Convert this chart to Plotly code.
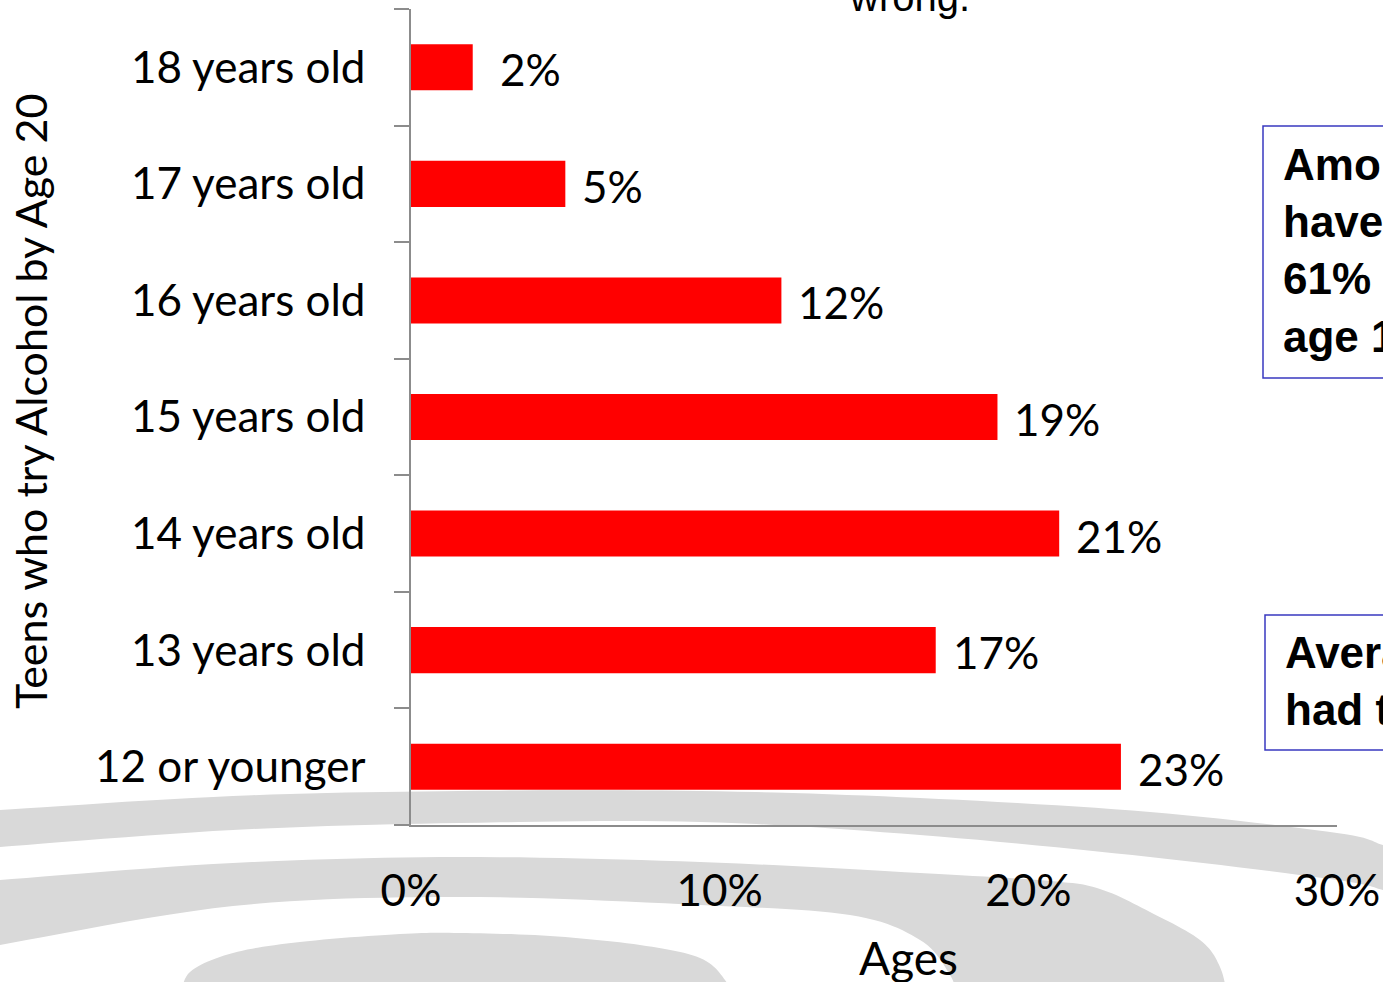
import plotly.graph_objects as go

# ---- data ----
categories = ["12 or younger", "13 years old", "14 years old", "15 years old",
              "16 years old", "17 years old", "18 years old"]
values = [23, 17, 21, 19, 12, 5, 2]
x_ticks = [0, 10, 20, 30]
x_tick_labels = ["0%", "10%", "20%", "30%"]
y_title = "Teens who try Alcohol by Age 20"
x_title = "Ages"
title_tail = "wrong."
box1_lines = ["Among teens who", "have tried alcohol,", "61% did so by", "age 15."]
box2_lines = ["Average age teens", "had their first drink: 14"]

W, H = 1383, 982
L, R, T, B = 411, 46, 9, 157
PW, PH = W - L - R, H - T - B


def px(x):
    return (x - L) / PW


def py(y):
    return (H - B - y) / PH


def catmull(pts, n=12):
    out = []
    P = [pts[0]] + pts + [pts[-1]]
    for i in range(1, len(P) - 2):
        p0, p1, p2, p3 = P[i - 1], P[i], P[i + 1], P[i + 2]
        for k in range(n):
            t = k / n
            t2, t3 = t * t, t * t * t
            x = 0.5 * ((2 * p1[0]) + (-p0[0] + p2[0]) * t + (2 * p0[0] - 5 * p1[0] + 4 * p2[0] - p3[0]) * t2 + (-p0[0] + 3 * p1[0] - 3 * p2[0] + p3[0]) * t3)
            y = 0.5 * ((2 * p1[1]) + (-p0[1] + p2[1]) * t + (2 * p0[1] - 5 * p1[1] + 4 * p2[1] - p3[1]) * t2 + (-p0[1] + 3 * p1[1] - 3 * p2[1] + p3[1]) * t3)
            out.append((x, y))
    out.append(pts[-1])
    return out


def region_path(edge_a, edge_b=None):
    pts = catmull(edge_a)
    if edge_b:
        pts += catmull(edge_b)
    return "M " + " L ".join(f"{px(x):.5f},{py(y):.5f}" for x, y in pts) + " Z"


# decorative background rings
band1_outer = [(-20, 811), (0, 810), (233, 796), (460, 791), (700, 791), (920, 798),
               (1150, 812), (1337, 833), (1383, 845), (1410, 852)]
band1_inner = [(1410, 897), (1383, 890), (1337, 880), (1150, 857), (920, 835), (700, 822),
               (460, 823), (233, 830), (0, 847), (-20, 849)]
band2_outer = [(-20, 882), (0, 880), (233, 863), (460, 857), (700, 862), (920, 873),
               (1050, 881), (1100, 889), (1150, 912), (1200, 940), (1220, 967), (1228, 1000)]
band2_inner = [(958, 1000), (950, 975), (920, 940), (850, 915), (700, 905), (460, 897),
               (233, 906), (0, 945), (-20, 950)]
blob = [(180, 1000), (190, 972), (233, 953), (300, 942), (400, 934), (460, 933), (550, 936),
        (640, 945), (700, 958), (725, 980), (732, 1000)]

GRAY = "#d9d9d9"
shapes = []
for path in [region_path(band1_outer, band1_inner), region_path(band2_outer, band2_inner),
             region_path(blob)]:
    shapes.append(dict(type="path", path=path, xref="paper", yref="paper",
                       fillcolor=GRAY, line=dict(width=0), layer="below"))

# text boxes
BLUE = "#3838c0"
shapes.append(dict(type="rect", xref="paper", yref="paper", x0=px(1263), x1=px(1420),
                   y0=py(378), y1=py(126), line=dict(color=BLUE, width=1.5),
                   fillcolor="white", layer="above"))
shapes.append(dict(type="rect", xref="paper", yref="paper", x0=px(1265), x1=px(1420),
                   y0=py(750), y1=py(615), line=dict(color=BLUE, width=1.5),
                   fillcolor="white", layer="above"))

FONT = "Lato, 'Open Sans', sans-serif"

fig = go.Figure()
fig.add_trace(go.Bar(
    y=categories, x=values, orientation="h", width=0.395,
    marker=dict(color="#ff0000", line=dict(width=0)),
    hoverinfo="skip",
))

annotations = []
for c, v in zip(categories, values):
    annotations.append(dict(x=v, y=c, xref="x", yref="y", text=f"{v}%", showarrow=False,
                            xanchor="left", yanchor="middle", xshift=25 if v < 5 else 15,
                            yshift=-2, font=dict(family=FONT, size=44, color="black")))

annotations.append(dict(x=px(31), y=py(402), xref="paper", yref="paper", text=y_title,
                        textangle=-90, showarrow=False, xanchor="center", yanchor="middle",
                        font=dict(family=FONT, size=43, color="black")))
annotations.append(dict(x=px(908), y=py(957), xref="paper", yref="paper", text=x_title,
                        showarrow=False, xanchor="center", yanchor="middle",
                        font=dict(family=FONT, size=46, color="black")))
annotations.append(dict(x=px(909), y=py(21), xref="paper", yref="paper", text=title_tail,
                        showarrow=False, xanchor="center", yanchor="bottom",
                        font=dict(family="Liberation Sans, Arial", size=40, color="black")))
annotations.append(dict(x=px(1281), y=py(138), xref="paper", yref="paper",
                        text="<b>" + "<br>".join(box1_lines) + "</b>", align="left",
                        showarrow=False, xanchor="left", yanchor="top",
                        font=dict(family="Liberation Sans, Arial", size=44, color="black")))
annotations.append(dict(x=px(1283), y=py(626), xref="paper", yref="paper",
                        text="<b>" + "<br>".join(box2_lines) + "</b>", align="left",
                        showarrow=False, xanchor="left", yanchor="top",
                        font=dict(family="Liberation Sans, Arial", size=44, color="black")))

fig.update_layout(
    width=W, height=H, autosize=False,
    margin=dict(l=L, r=R, t=T, b=B, pad=0, autoexpand=False),
    paper_bgcolor="white", plot_bgcolor="rgba(0,0,0,0)",
    showlegend=False,
    shapes=shapes, annotations=annotations,
    bargap=0.6,
)
fig.update_xaxes(range=[0, 30], tickvals=x_ticks, ticktext=x_tick_labels, automargin=False,
                 showgrid=False, zeroline=False, showline=True, linecolor="#8c8c8c",
                 linewidth=1.5, ticks="", ticklabelstandoff=26,
                 tickfont=dict(family=FONT, size=44, color="black"), fixedrange=True)
fig.update_yaxes(categoryorder="array", categoryarray=categories, showgrid=False,
                 automargin=False,
                 zeroline=False, showline=True, linecolor="#8c8c8c", linewidth=1.5,
                 ticks="outside", ticklen=15, tickwidth=1.5, tickcolor="#8c8c8c",
                 tickson="boundaries", ticklabelstandoff=35,
                 tickfont=dict(family=FONT, size=44, color="black"), fixedrange=True)

fig.write_html("out.html", config={"displayModeBar": False},
               post_script="document.body.style.margin='0';document.body.style.overflow='hidden';")
